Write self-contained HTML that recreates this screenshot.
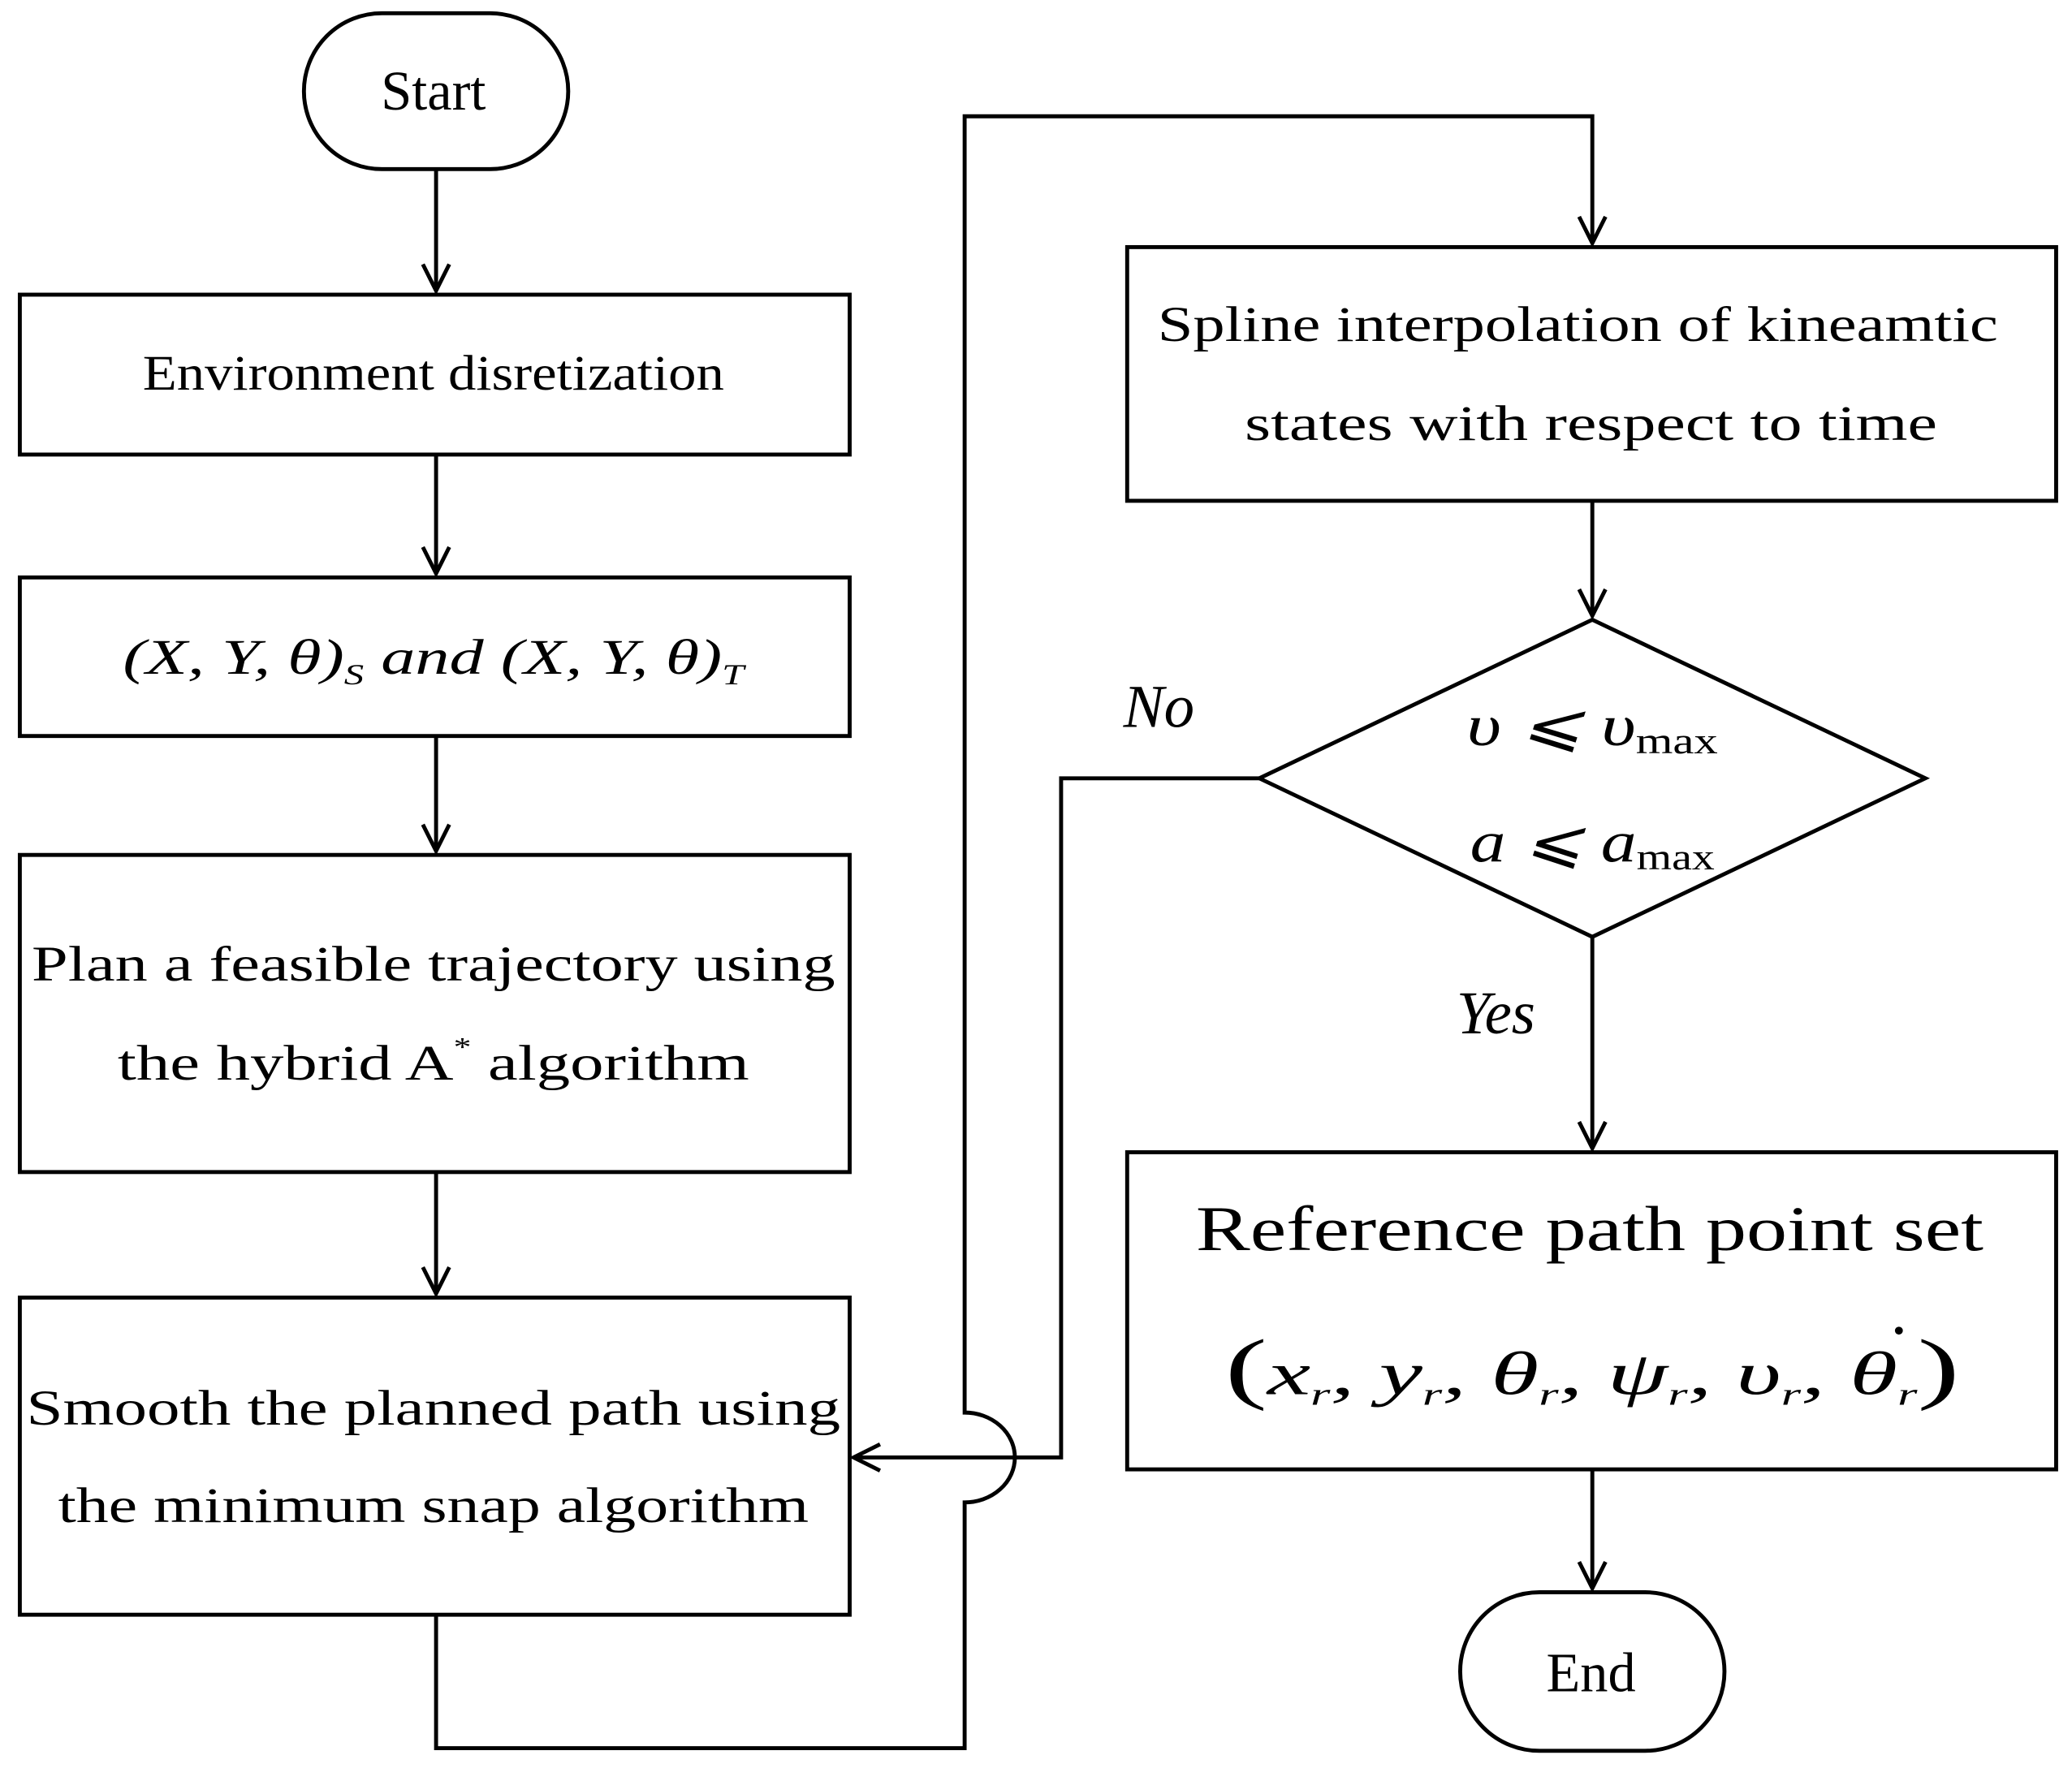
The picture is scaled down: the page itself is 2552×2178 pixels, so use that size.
<!DOCTYPE html>
<html><head><meta charset="utf-8"><style>html,body{margin:0;padding:0;background:#fff}svg{display:block}</style></head>
<body>
<svg width="2552" height="2178" viewBox="0 0 1568 1338" preserveAspectRatio="none" xmlns="http://www.w3.org/2000/svg" font-family="Liberation Serif, serif" fill="none" stroke="#000" stroke-width="3">
<defs>
<marker id="b" markerWidth="24" markerHeight="24" refX="22" refY="12" orient="auto" markerUnits="userSpaceOnUse"><path d="M2,2 L22,12 L2,22" fill="none" stroke="#000" stroke-width="3"/></marker></defs>
<rect x="230" y="10" width="200" height="118" rx="59" />
<rect x="15" y="223" width="628" height="121"/>
<rect x="15" y="437" width="628" height="120"/>
<rect x="15" y="647" width="628" height="240"/>
<rect x="15" y="982" width="628" height="240"/>
<rect x="853" y="187" width="703" height="192"/>
<polygon points="1205,469 1457,589 1205,709 953,589"/>
<rect x="853" y="872" width="703" height="240"/>
<rect x="1105" y="1205" width="200" height="120" rx="60"/>
<g marker-end="url(#b)">
<line x1="330" y1="128" x2="330" y2="220"/>
<line x1="330" y1="344" x2="330" y2="434"/>
<line x1="330" y1="557" x2="330" y2="644"/>
<line x1="330" y1="887" x2="330" y2="979"/>
<line x1="1205" y1="379" x2="1205" y2="466"/>
<line x1="1205" y1="709" x2="1205" y2="869"/>
<line x1="1205" y1="1112" x2="1205" y2="1202"/>
<path d="M330,1222 V1323 H730 V1137 A38,34 0 0 0 730,1069 V88 H1205 V184"/>
<path d="M953,589 H803 V1103 H646"/>
</g>
<circle cx="1437" cy="1007" r="3" fill="#000" stroke="none"/>
<g fill="#000" stroke="none" font-size="38" text-anchor="middle">
<text x="328" y="83" font-size="42">Start</text>
<text x="328" y="295" textLength="440" lengthAdjust="spacingAndGlyphs">Environment disretization</text>
<text x="328" y="510" font-style="italic" textLength="470" lengthAdjust="spacingAndGlyphs">(X, Y, θ)<tspan font-size="22" dy="8">S</tspan><tspan dy="-8"> and (X, Y, θ)</tspan><tspan font-size="22" dy="8">T</tspan></text>
<text x="328" y="742" textLength="608" lengthAdjust="spacingAndGlyphs">Plan a feasible trajectory using</text>
<text x="328" y="817" textLength="478" lengthAdjust="spacingAndGlyphs">the hybrid A<tspan font-size="20" dy="-18">*</tspan><tspan dy="18"> algorithm</tspan></text>
<text x="328" y="1078" textLength="616" lengthAdjust="spacingAndGlyphs">Smooth the planned path using</text>
<text x="328" y="1152" textLength="568" lengthAdjust="spacingAndGlyphs">the minimum snap algorithm</text>
<text x="1194" y="258" textLength="636" lengthAdjust="spacingAndGlyphs">Spline interpolation of kineamtic</text>
<text x="1204" y="333" textLength="524" lengthAdjust="spacingAndGlyphs">states with respect to time</text>
<text x="1205" y="564" font-style="italic" font-size="44" textLength="190" lengthAdjust="spacingAndGlyphs">υ ⩽ υ<tspan font-style="normal" font-size="28" dy="6">max</tspan></text>
<text x="1205" y="652" font-style="italic" font-size="44" textLength="185" lengthAdjust="spacingAndGlyphs">a ⩽ a<tspan font-style="normal" font-size="28" dy="6">max</tspan></text>
<text x="877" y="550" font-style="italic" font-size="46">No</text>
<text x="1132" y="782" font-style="italic" font-size="46">Yes</text>
<text x="1203" y="946" font-size="48" textLength="596" lengthAdjust="spacingAndGlyphs">Reference path point set</text>
<text x="1205" y="1055" font-size="46" font-style="italic" textLength="556" lengthAdjust="spacingAndGlyphs"><tspan font-style="normal" font-size="60">(</tspan>x<tspan font-size="24" dy="8">r</tspan><tspan dy="-8">, y</tspan><tspan font-size="24" dy="8">r</tspan><tspan dy="-8">, θ</tspan><tspan font-size="24" dy="8">r</tspan><tspan dy="-8">, ψ</tspan><tspan font-size="24" dy="8">r</tspan><tspan dy="-8">, υ</tspan><tspan font-size="24" dy="8">r</tspan><tspan dy="-8">, θ</tspan><tspan font-size="24" dy="8">r</tspan><tspan dy="-8" font-style="normal" font-size="60">)</tspan></text>
<text x="1204" y="1280" font-size="42">End</text>
</g>
</svg>
</body></html>
